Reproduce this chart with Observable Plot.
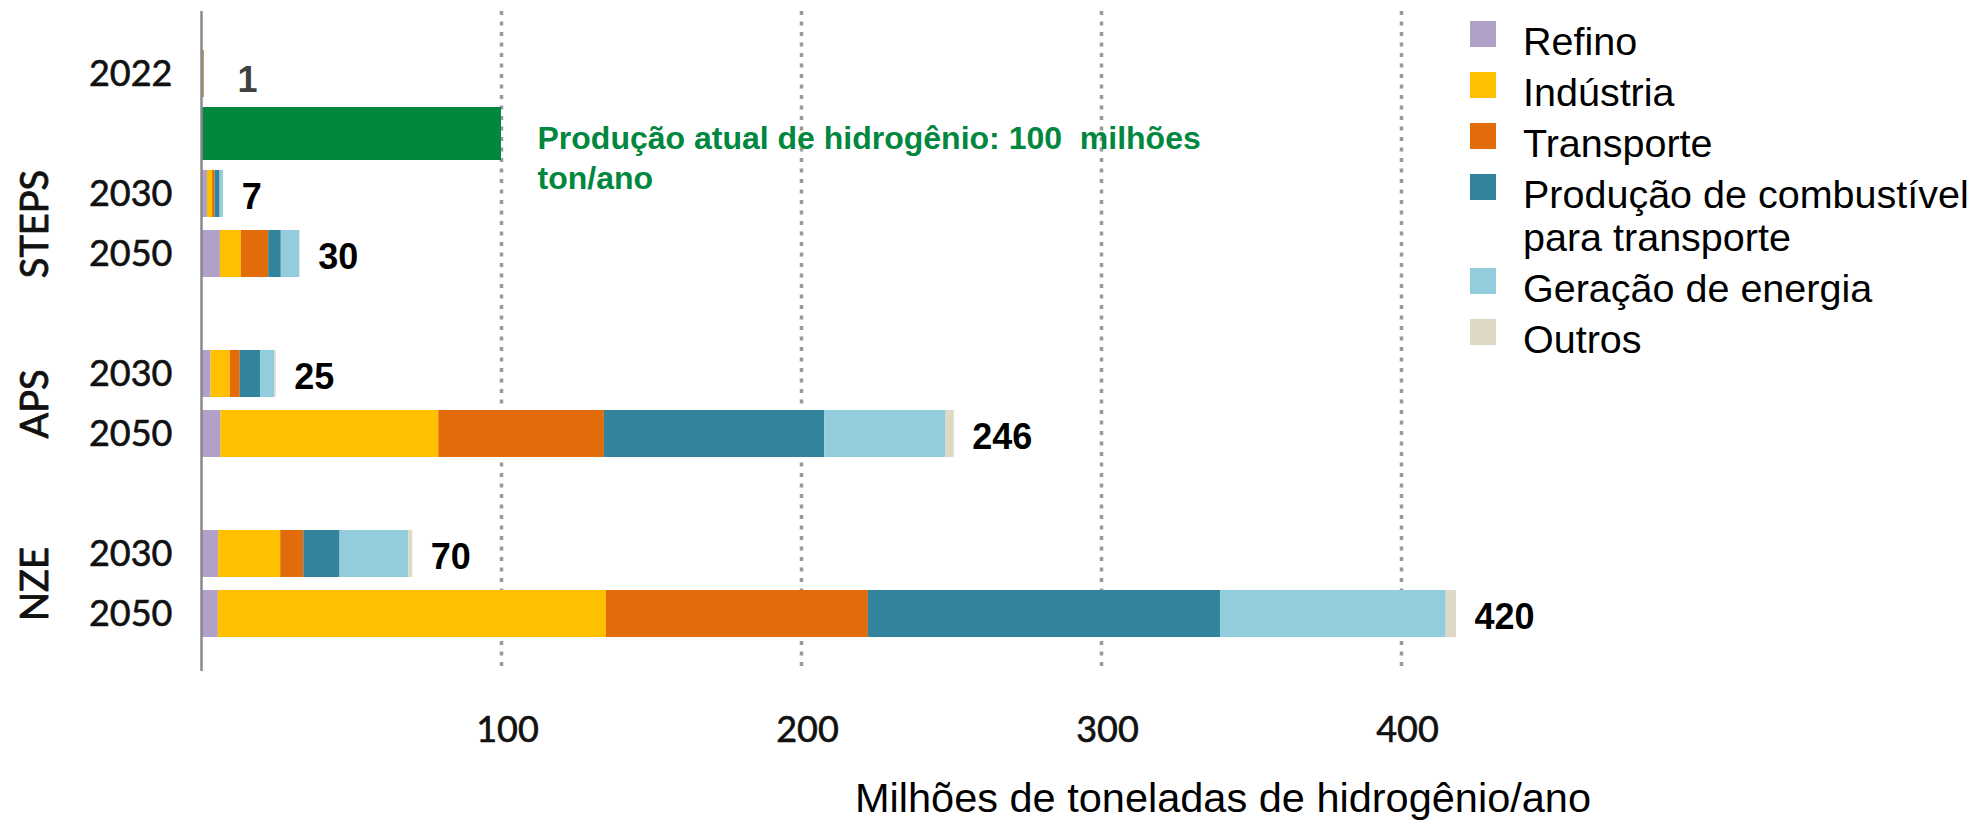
<!DOCTYPE html>
<html>
<head>
<meta charset="utf-8">
<script src="https://cdn.jsdelivr.net/npm/d3@7"></script>
<script src="https://cdn.jsdelivr.net/npm/@observablehq/plot@0.6"></script>
<style>
  html, body { margin: 0; padding: 0; background: #fff; overflow: hidden; }
  #wrap { position: relative; width: 1977px; height: 820px; }
  #legend { position: absolute; left: 1470px; top: 20px; font-family: "Liberation Sans", Arial, sans-serif; font-size: 39.5px; line-height: 43px; color: #000; }
  .item { display: flex; align-items: flex-start; margin-bottom: 8px; }
  .sw { width: 26px; height: 26px; margin-top: 1px; margin-right: 27px; flex: none; }
  .lab { width: 450px; }
  #xtitle { position: absolute; left: 855px; top: 777px; font-family: "Liberation Sans", Arial, sans-serif; font-size: 41.5px; line-height: 41.5px; color: #000; white-space: nowrap; }
</style>
</head>
<body>
<div id="wrap"></div>
<script>
// ---- data ----
const rowOrder = ["2022", "Atual", "STEPS 2030", "STEPS 2050", "gap1", "APS 2030", "APS 2050", "gap2", "NZE 2030", "NZE 2050"];
const yearLabels = ["2022", "", "2030", "2050", "", "2030", "2050", "", "2030", "2050"];
const scenarios = ["STEPS", "APS", "NZE"];
const categories = ["Refino", "Indústria", "Transporte", "Produção de combustível para transporte", "Geração de energia", "Outros"];
const colors = ["#B1A0C7", "#FFC000", "#E36C0A", "#31849B", "#93CDDD", "#DDD9C4"];
const scenarioRows = ["STEPS 2030", "STEPS 2050", "APS 2030", "APS 2050", "NZE 2030", "NZE 2050"];
const refino      = [2.0, 6.3, 3.2, 6.5, 5.7, 5.6];
const industria   = [1.7, 7.0, 6.4, 72.6, 20.7, 129.4];
const transporte  = [0.8, 9.1, 3.3, 55.2, 7.7, 87.3];
const combustivel = [1.7, 4.2, 6.9, 73.4, 12.1, 117.5];
const geracao     = [1.1, 6.1, 4.7, 40.5, 22.9, 75.1];
const outros      = [0.1, 0.2, 0.4, 2.7, 1.3, 3.4];
const value2022 = 1;
const currentProduction = 100;
const annotation = "Produção atual de hidrogênio: 100\u00a0 milhões\nton/ano";
const labelRows = ["STEPS 2030", "STEPS 2050", "APS 2030", "APS 2050", "NZE 2030", "NZE 2050"];
const labelTexts = ["7", "30", "25", "246", "70", "420"];
const label2022 = "1";
const xTicks = [100, 200, 300, 400];
const xTitle = "Milhões de toneladas de hidrogênio/ano";

// ---- build tables ----
const seriesValues = [refino, industria, transporte, combustivel, geracao, outros];
const table = categories.flatMap((c, ci) => scenarioRows.map((r, ri) => ({row: r, category: c, value: seriesValues[ci][ri]})));
const totals = new Map(scenarioRows.map(r => [r, d3.sum(table.filter(d => d.row === r), d => d.value)]));
const labels = labelRows.map((r, i) => ({row: r, text: labelTexts[i], x: totals.get(r)}));
const bar2022 = [{row: "2022", value: value2022}];
const current = [{row: "Atual", value: currentProduction}];

const font = "'Liberation Sans', Arial, sans-serif";

const plot = Plot.plot({
  width: 1977,
  height: 820,
  marginLeft: 201,
  marginRight: 516,
  marginTop: 11,
  marginBottom: 149,
  style: {fontFamily: "Lato, sans-serif", background: "white", overflow: "visible"},
  x: {domain: [0, 420]},
  y: {domain: rowOrder, paddingInner: 0.2167, paddingOuter: 0.608, align: 0.534},
  color: {domain: categories, range: colors},
  marks: [
    Plot.gridX(xTicks, {stroke: "#9a9a9a", strokeOpacity: 1, strokeWidth: 3.5, strokeDasharray: "4,6.5"}),
    Plot.barX(current, {x1: 0, x2: "value", y: "row", fill: "#02873F", insetTop: -3, insetBottom: -3}),
    Plot.barX(bar2022, {x: "value", y: "row", fill: "#B89A6A"}),
    Plot.barX(table, {x: "value", y: "row", fill: "category", order: categories}),
    Plot.ruleX([0], {stroke: "#8a8a8a", strokeWidth: 2.5}),
    Plot.axisY({tickSize: 0, tickPadding: 29, fontSize: 36, fill: "#111", label: null,
      textStroke: "#111", textStrokeWidth: 0.6,
      tickFormat: d => yearLabels[rowOrder.indexOf(d)]}),
    Plot.axisX(xTicks, {tickSize: 0, tickPadding: 45, fontSize: 36, fill: "#111", label: null, dx: 6,
      textStroke: "#111", textStrokeWidth: 0.6}),
    Plot.text(scenarios, {y: d => d + " 2030", text: d => d, frameAnchor: "left", textAnchor: "middle",
      lineAnchor: "middle", dx: -166, dy: 30, rotate: -90, fontSize: 38, fill: "#111",
      stroke: "#111", strokeWidth: 0.8}),
    Plot.text(labels, {x: "x", y: "row", text: "text", dx: 18, dy: 3, textAnchor: "start",
      fontSize: 36, fontWeight: "bold", fontFamily: font, fill: "#000"}),
    Plot.text(bar2022, {x: "value", y: "row", text: () => label2022, dx: 33, dy: 6, textAnchor: "start",
      fontSize: 36, fontWeight: "bold", fontFamily: font, fill: "#404040"}),
    Plot.text(current, {x: "value", y: "row", text: () => annotation, dx: 36, dy: -13, textAnchor: "start",
      lineAnchor: "top", lineHeight: 1.25, fontSize: 32, fontWeight: "bold", fontFamily: font, fill: "#02873F"})
  ]
});

const wrap = document.getElementById("wrap");
wrap.appendChild(plot);

// legend
const legend = document.createElement("div");
legend.id = "legend";
categories.forEach((c, i) => {
  const item = document.createElement("div");
  item.className = "item";
  const sw = document.createElement("div");
  sw.className = "sw";
  sw.style.background = colors[i];
  const lab = document.createElement("div");
  lab.className = "lab";
  lab.textContent = c;
  item.appendChild(sw);
  item.appendChild(lab);
  legend.appendChild(item);
});
wrap.appendChild(legend);

const xt = document.createElement("div");
xt.id = "xtitle";
xt.textContent = xTitle;
wrap.appendChild(xt);
</script>
</body>
</html>
